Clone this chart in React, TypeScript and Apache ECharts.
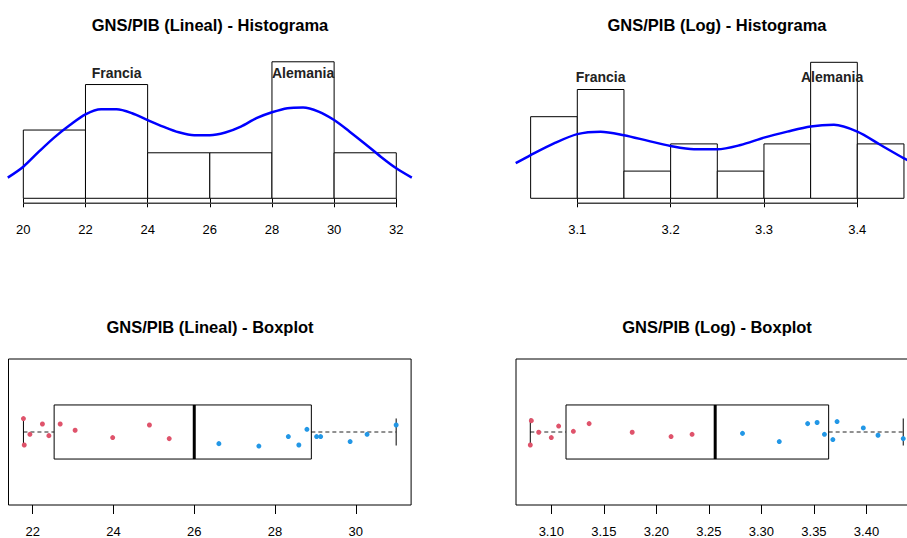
import React, { useEffect, useRef } from "react";
import * as echarts from "echarts";

// ---------- data ----------
const linBreaks = [20, 22, 24, 26, 28, 30, 32];
const linCounts = [3, 5, 2, 2, 6, 2];
const logBreaks = [3.05, 3.1, 3.15, 3.2, 3.25, 3.3, 3.35, 3.4, 3.45];
const logCounts = [3, 4, 1, 2, 1, 2, 5, 2];

// density curves, expressed on the count scale of each histogram
const linDensX = [19.5, 20, 20.5, 21, 21.5, 22, 22.5, 23, 23.5, 24, 24.5, 25, 25.5, 26, 26.5, 27, 27.5, 28, 28.5, 29, 29.5, 30, 30.5, 31, 31.5, 32, 32.5];
const linDensY = [0.91, 1.39, 2.05, 2.68, 3.22, 3.69, 3.91, 3.91, 3.74, 3.44, 3.15, 2.9, 2.77, 2.77, 2.89, 3.15, 3.52, 3.78, 3.96, 3.99, 3.81, 3.44, 2.93, 2.39, 1.83, 1.32, 0.91];
const logDensX = [3.034, 3.05, 3.075, 3.1, 3.125, 3.15, 3.175, 3.2, 3.225, 3.25, 3.275, 3.3, 3.325, 3.35, 3.375, 3.4, 3.425, 3.45, 3.466];
const logDensY = [1.29, 1.59, 2.02, 2.36, 2.45, 2.32, 2.12, 1.92, 1.8, 1.8, 1.96, 2.23, 2.45, 2.64, 2.7, 2.45, 1.96, 1.47, 1.2];

const histLabels = ["Francia", "Alemania"];
const linLabelX = [23, 29];
const linLabelY = [5.52, 5.52];
const logLabelX = [3.125, 3.373];
const logLabelY = [4.45, 4.45];

const linTicks = [20, 22, 24, 26, 28, 30, 32];
const logTicks = [3.1, 3.2, 3.3, 3.4];
const linBoxTicks = [22, 24, 26, 28, 30];
const logBoxTicks = [3.1, 3.15, 3.2, 3.25, 3.3, 3.35, 3.4];

// boxplot stats: [lower whisker, Q1, median, Q3, upper whisker]
const linBox = [21.77, 22.53, 26.0, 28.9, 31.0];
const logBox = [3.08, 3.114, 3.256, 3.364, 3.435];

// points below / above the median with their vertical jitter
const linLow = [21.77, 21.79, 21.93, 22.24, 22.4, 22.68, 23.05, 23.98, 24.89, 25.38];
const linLowJit = [0.099, -0.096, -0.017, 0.059, -0.027, 0.059, 0.013, -0.041, 0.052, -0.049];
const linHigh = [26.61, 27.6, 28.33, 28.59, 28.79, 29.03, 29.13, 29.86, 30.28, 31.0];
const linHighJit = [-0.086, -0.104, -0.034, -0.096, 0.02, -0.034, -0.034, -0.071, -0.017, 0.052];
const logLow = [3.081, 3.08, 3.088, 3.1, 3.107, 3.121, 3.136, 3.177, 3.214, 3.234];
const logLowJit = [0.084, -0.096, -0.002, -0.041, 0.044, 0.005, 0.062, -0.002, -0.034, -0.017];
const logHigh = [3.282, 3.317, 3.344, 3.353, 3.36, 3.368, 3.372, 3.397, 3.411, 3.435];
const logHighJit = [-0.01, -0.071, 0.062, 0.07, -0.017, -0.056, 0.077, 0.03, -0.024, -0.049];

const titles = [
  "GNS/PIB (Lineal) - Histograma",
  "GNS/PIB (Log) - Histograma",
  "GNS/PIB (Lineal) - Boxplot",
  "GNS/PIB (Log) - Boxplot",
];

const FONT = '"Liberation Sans", Arial, Helvetica, sans-serif';
const RED = "#DF536B";
const BLUE = "#2297E6";

function histSeries(
  g: number,
  breaks: number[],
  counts: number[],
  densX: number[],
  densY: number[],
  labX: number[],
  labY: number[],
  ticks: number[],
  yMin: number
): any[] {
  return [
    {
      type: "custom",
      xAxisIndex: g,
      yAxisIndex: g,
      silent: true,
      clip: false,
      data: counts.map((c, i) => [breaks[i], breaks[i + 1], c]),
      encode: { x: [0, 1], y: 2 },
      renderItem: (_p: any, api: any) => {
        const a = api.coord([api.value(0), 0]);
        const b = api.coord([api.value(1), api.value(2)]);
        return {
          type: "rect",
          shape: { x: a[0], y: b[1], width: b[0] - a[0], height: a[1] - b[1] },
          style: { fill: "#fff", stroke: "#000", lineWidth: 1 },
        };
      },
    },
    {
      type: "line",
      xAxisIndex: g,
      yAxisIndex: g,
      silent: true,
      clip: false,
      symbol: "none",
      data: [
        [ticks[0], yMin],
        [ticks[ticks.length - 1], yMin],
      ],
      lineStyle: { color: "#444", width: 1.5 },
    },
    {
      type: "line",
      xAxisIndex: g,
      yAxisIndex: g,
      silent: true,
      clip: true,
      symbol: "none",
      smooth: 0.3,
      data: densX.map((x, i) => [x, densY[i]]),
      lineStyle: { color: "#0000FF", width: 2.5 },
    },
    {
      type: "custom",
      xAxisIndex: g,
      yAxisIndex: g,
      silent: true,
      clip: false,
      data: labX.map((x, i) => [x, labY[i]]),
      renderItem: (p: any, api: any) => {
        const c = api.coord([api.value(0), api.value(1)]);
        return {
          type: "text",
          x: c[0],
          y: c[1],
          style: {
            text: histLabels[p.dataIndex],
            font: `bold 14px ${FONT}`,
            fill: "#222",
            align: "center",
            verticalAlign: "middle",
            textAlign: "center",
            textVerticalAlign: "middle",
          },
        };
      },
    },
  ];
}

function boxSeries(
  g: number,
  box: number[],
  low: number[],
  lowJit: number[],
  high: number[],
  highJit: number[]
): any[] {
  return [
    {
      type: "custom",
      xAxisIndex: g,
      yAxisIndex: g,
      silent: true,
      clip: false,
      data: [box],
      encode: { x: [0, 1, 2, 3, 4] },
      renderItem: (_p: any, api: any) => {
        const lo = api.value(0);
        const q1 = api.value(1);
        const md = api.value(2);
        const q3 = api.value(3);
        const hi = api.value(4);
        const tl = api.coord([q1, 1.2]);
        const br = api.coord([q3, 0.8]);
        const mT = api.coord([md, 1.2]);
        const mB = api.coord([md, 0.8]);
        const wl = api.coord([lo, 1]);
        const w1 = api.coord([q1, 1]);
        const w3 = api.coord([q3, 1]);
        const wh = api.coord([hi, 1]);
        const sLT = api.coord([lo, 1.1]);
        const sLB = api.coord([lo, 0.9]);
        const sHT = api.coord([hi, 1.1]);
        const sHB = api.coord([hi, 0.9]);
        const dash = { stroke: "#222", lineWidth: 1, lineDash: [4, 3] };
        return {
          type: "group",
          children: [
            { type: "line", shape: { x1: wl[0], y1: wl[1], x2: w1[0], y2: w1[1] }, style: dash },
            { type: "line", shape: { x1: w3[0], y1: w3[1], x2: wh[0], y2: wh[1] }, style: dash },
            { type: "line", shape: { x1: sLT[0], y1: sLT[1], x2: sLB[0], y2: sLB[1] }, style: { stroke: "#000", lineWidth: 1 } },
            { type: "line", shape: { x1: sHT[0], y1: sHT[1], x2: sHB[0], y2: sHB[1] }, style: { stroke: "#000", lineWidth: 1 } },
            {
              type: "rect",
              shape: { x: tl[0], y: tl[1], width: br[0] - tl[0], height: br[1] - tl[1] },
              style: { fill: "none", stroke: "#000", lineWidth: 1 },
            },
            { type: "line", shape: { x1: mT[0], y1: mT[1], x2: mB[0], y2: mB[1] }, style: { stroke: "#000", lineWidth: 3 } },
          ],
        };
      },
    },
    {
      type: "scatter",
      xAxisIndex: g,
      yAxisIndex: g,
      silent: true,
      symbolSize: 5,
      data: low.map((v, i) => [v, 1 + lowJit[i]]),
      itemStyle: { color: RED, opacity: 1 },
    },
    {
      type: "scatter",
      xAxisIndex: g,
      yAxisIndex: g,
      silent: true,
      symbolSize: 5,
      data: high.map((v, i) => [v, 1 + highJit[i]]),
      itemStyle: { color: BLUE, opacity: 1 },
    },
  ];
}

function xAxisFor(g: number, min: number, max: number, ticks: number[], digits: number | null): any {
  return {
    type: "value",
    gridIndex: g,
    min,
    max,
    axisLine: { show: false },
    splitLine: { show: false },
    axisTick: { show: true, length: 9, customValues: ticks, lineStyle: { color: "#000", width: 1 } },
    axisLabel: {
      show: true,
      customValues: ticks,
      margin: 20,
      fontSize: 13,
      color: "#000",
      fontFamily: FONT,
      formatter: (v: number) => (digits === null ? String(v) : v.toFixed(digits)),
    },
  };
}

export default function App() {
  const ref = useRef<HTMLDivElement>(null);
  useEffect(() => {
    if (!ref.current) return;
    const chart = echarts.init(ref.current, undefined, { renderer: "svg" });
    const yMin0 = -0.22;
    const yMin1 = -0.184;
    const gridBase = { outerBoundsMode: "none", containLabel: false };
    const option: any = {
      animation: false,
      backgroundColor: "#fff",
      textStyle: { fontFamily: FONT },
      grid: [
        { ...gridBase, left: 8.4, top: 40, width: 402.8, height: 163.3 },
        { ...gridBase, left: 515.7, top: 40, width: 403.2, height: 163.3 },
        { ...gridBase, left: 8.5, top: 359, width: 402.6, height: 146, show: true, borderColor: "#000", borderWidth: 1 },
        { ...gridBase, left: 516, top: 359, width: 401, height: 146, show: true, borderColor: "#000", borderWidth: 1 },
      ],
      xAxis: [
        xAxisFor(0, 19.52, 32.48, linTicks, null),
        xAxisFor(1, 3.034, 3.466, logTicks, 1),
        xAxisFor(2, 21.4, 31.37, linBoxTicks, null),
        xAxisFor(3, 3.0664, 3.4481, logBoxTicks, 2),
      ],
      yAxis: [
        { type: "value", gridIndex: 0, min: yMin0, max: 6.958, show: false },
        { type: "value", gridIndex: 1, min: yMin1, max: 5.82, show: false },
        { type: "value", gridIndex: 2, min: 0.46, max: 1.54, show: false },
        { type: "value", gridIndex: 3, min: 0.46, max: 1.54, show: false },
      ],
      graphic: titles.map((t, i) => ({
        type: "text",
        x: i % 2 === 0 ? 210 : 717,
        y: i < 2 ? 25 : 327,
        silent: true,
        style: {
          text: t,
          font: `bold 16.5px ${FONT}`,
          fill: "#000",
          textAlign: "center",
          textVerticalAlign: "middle",
        },
      })),
      series: [
        ...histSeries(0, linBreaks, linCounts, linDensX, linDensY, linLabelX, linLabelY, linTicks, yMin0),
        ...histSeries(1, logBreaks, logCounts, logDensX, logDensY, logLabelX, logLabelY, logTicks, yMin1),
        ...boxSeries(2, linBox, linLow, linLowJit, linHigh, linHighJit),
        ...boxSeries(3, logBox, logLow, logLowJit, logHigh, logHighJit),
      ],
    };
    chart.setOption(option);
    return () => chart.dispose();
  }, []);
  return (
    <div
      ref={ref}
      style={{ position: "fixed", left: 0, top: 0, width: 907, height: 538, background: "#fff" }}
    />
  );
}
